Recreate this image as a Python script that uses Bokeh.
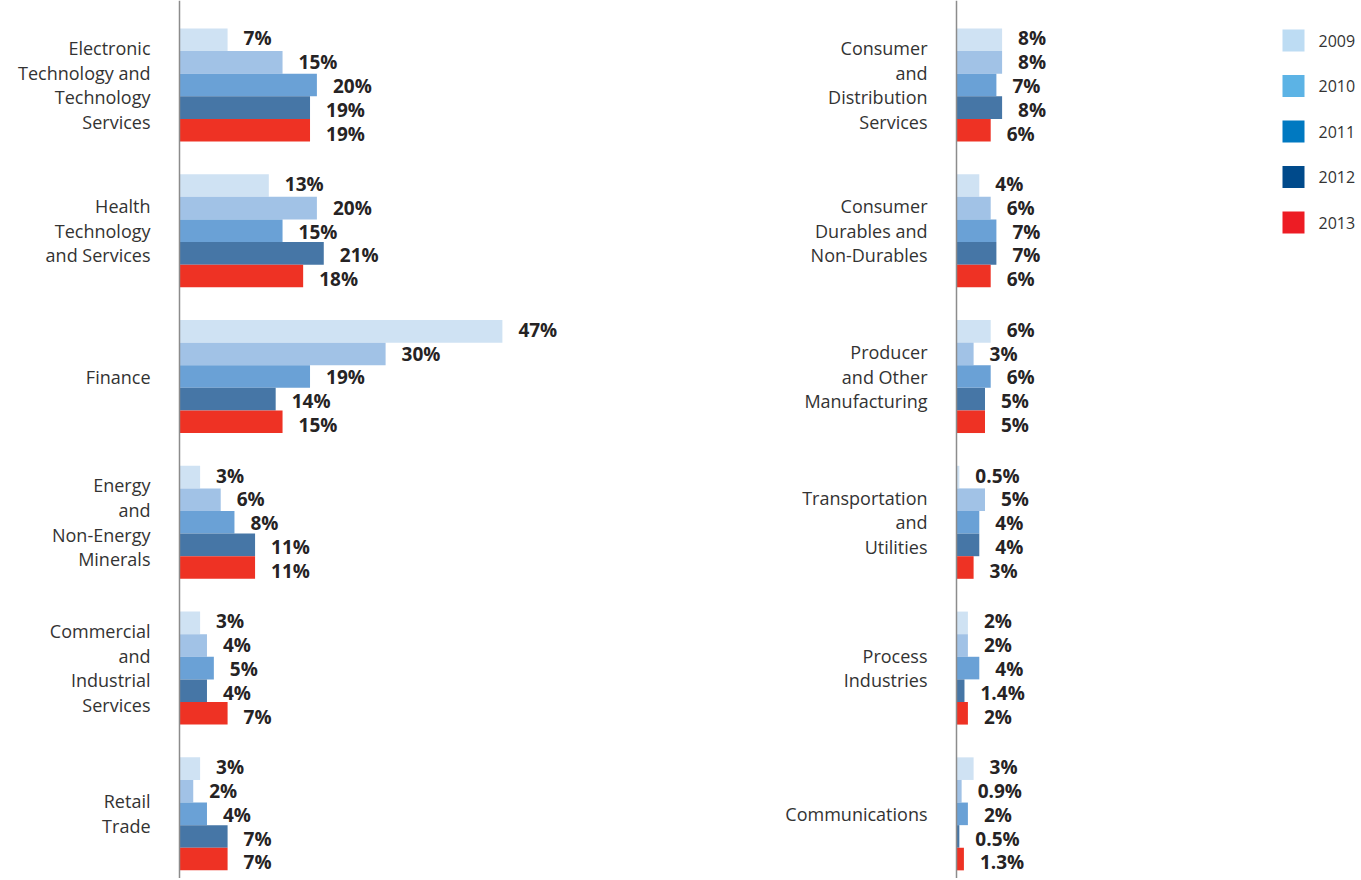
from bokeh.plotting import figure
from bokeh.layouts import row
from bokeh.models import ColumnDataSource, Range1d, Span
from bokeh.core.properties import value
from bokeh.embed import file_html
from bokeh.resources import INLINE

years = ["2009", "2010", "2011", "2012", "2013"]
bar_colors = ["#cfe2f3", "#a1c2e6", "#6aa1d6", "#4676a6", "#ee3224"]
legend_colors = ["#bddcf3", "#5cb3e5", "#0079c1", "#004a8b", "#ed1c24"]

left_categories = [
    "Electronic\nTechnology and\nTechnology\nServices",
    "Health\nTechnology\nand Services",
    "Finance",
    "Energy\nand\nNon-Energy\nMinerals",
    "Commercial\nand\nIndustrial\nServices",
    "Retail\nTrade",
]
left_values = [
    [7, 15, 20, 19, 19],
    [13, 20, 15, 21, 18],
    [47, 30, 19, 14, 15],
    [3, 6, 8, 11, 11],
    [3, 4, 5, 4, 7],
    [3, 2, 4, 7, 7],
]

right_categories = [
    "Consumer\nand\nDistribution\nServices",
    "Consumer\nDurables and\nNon-Durables",
    "Producer\nand Other\nManufacturing",
    "Transportation\nand\nUtilities",
    "Process\nIndustries",
    "Communications",
]
right_values = [
    [8, 8, 7, 8, 6],
    [4, 6, 7, 7, 6],
    [6, 3, 6, 5, 5],
    [0.5, 5, 4, 4, 3],
    [2, 2, 4, 1.4, 2],
    [3, 0.9, 2, 0.5, 1.3],
]

H = 878
BAR_PX = 22.6
GROUP_STEP = 6.45
TOP_PX = 28
FONT = "Open Sans"


def fmt(v):
    if float(v).is_integer():
        return f"{int(v)}%"
    return f"{v}%"


def panel(categories, values, width, axis_px, px_per_unit):
    x_start = -axis_px / px_per_unit
    x_end = (width - axis_px) / px_per_unit
    y_end = -TOP_PX / BAR_PX
    y_start = y_end + H / BAR_PX
    p = figure(width=width, height=H, output_backend="svg", toolbar_location=None,
               x_range=Range1d(x_start, x_end), y_range=Range1d(y_start, y_end),
               min_border=0, outline_line_color=None)
    p.axis.visible = False
    p.grid.visible = False

    ys, xs, cols, labels, yoff = [], [], [], [], []
    for i, vals in enumerate(values):
        for j, v in enumerate(vals):
            ys.append(i * GROUP_STEP + j + 0.5)
            xs.append(v)
            cols.append(bar_colors[j])
            labels.append(fmt(v))
            yoff.append(-1.5 + 1.2 * j)
    src = ColumnDataSource(dict(y=ys, x=xs, c=cols, t=labels, yo=yoff))
    p.hbar(y="y", right="x", left=0, height=1.0, fill_color="c", line_color=None, source=src)
    p.text(x="x", y="y", text="t", source=src, x_offset=16, y_offset="yo",
           text_align="left", text_baseline="middle",
           text_font=value(FONT), text_font_style="bold", text_font_size="19px",
           text_color="#262324")

    csrc = ColumnDataSource(dict(
        x=[0] * len(categories),
        y=[i * GROUP_STEP + 2.5 for i in range(len(categories))],
        t=categories))
    p.text(x="x", y="y", text="t", source=csrc, x_offset=-29,
           text_align="right", text_baseline="middle", text_line_height=1.03,
           text_font=value(FONT), text_font_size="18px", text_color="#333333")

    p.add_layout(Span(location=0, dimension="height", line_color="#8c8c8c", line_width=1.5))
    return p


left = panel(left_categories, left_values, 708, 179, 6.87)
right = panel(right_categories, right_values, 562, 248, 5.7)

# legend panel
LEG_STEP = 45.5
ly_end = -40 / LEG_STEP
ly_start = ly_end + H / LEG_STEP
leg = figure(width=90, height=H, output_backend="svg", toolbar_location=None,
             x_range=Range1d(-23, 67), y_range=Range1d(ly_start, ly_end),
             min_border=0, outline_line_color=None)
leg.axis.visible = False
leg.grid.visible = False
lsrc = ColumnDataSource(dict(x=[0] * len(years), y=list(range(len(years))), c=legend_colors, t=years))
leg.rect(x="x", y="y", width=22, height=22, width_units="screen", height_units="screen",
         fill_color="c", line_color=None, source=lsrc)
leg.text(x="x", y="y", text="t", source=lsrc, x_offset=25, text_align="left",
         text_baseline="middle", text_font=value(FONT), text_font_size="16px",
         text_color="#333333")

layout = row(left, right, leg, spacing=0)
open("out.html", "w").write(file_html(layout, INLINE))
